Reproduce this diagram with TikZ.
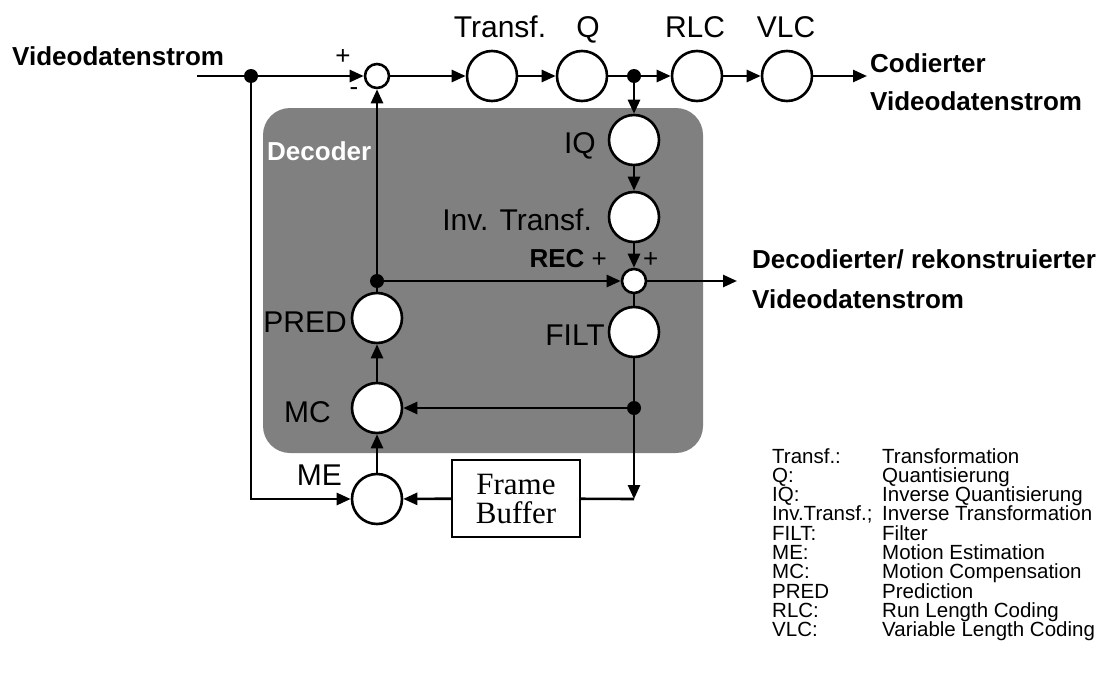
\documentclass[tikz,border=0pt]{standalone}
\usepackage{fontspec}
\setmainfont{Liberation Sans}
\newfontfamily\seriffont{Liberation Serif}
\usetikzlibrary{arrows.meta}
\definecolor{boxgray}{RGB}{128,128,128}
\begin{document}
\begin{tikzpicture}[x=1pt,y=-1pt,
  blk/.style={circle, draw, fill=white, line width=2.6pt, minimum size=50pt, inner sep=0pt},
  sumc/.style={circle, draw, fill=white, line width=2.6pt, minimum size=24pt, inner sep=0pt},
  dotc/.style={circle, fill=black, minimum size=14pt, inner sep=0pt},
  conn/.style={line width=2.6pt},
  arr/.style={conn, -{Triangle[length=14pt,width=12pt]}},
  lbl/.style={font=\fontsize{30}{30}\selectfont, inner sep=0pt},
  bld/.style={font=\fontsize{26}{26}\selectfont\bfseries, inner sep=0pt, anchor=base west},
  sgn/.style={font=\fontsize{26}{26}\selectfont, inner sep=0pt},
  leg/.style={font=\fontsize{20.5}{20.5}\selectfont, inner sep=0pt, anchor=base west},
]
\useasboundingbox (0,0) rectangle (1113,680);
% decoder background
\fill[boxgray, rounded corners=27pt] (263,108) rectangle (703,453);
\node[bld, text=white] (dec) at (267,160) {Decoder};

% nodes
\coordinate (start) at (197,76);
\node[dotc] (d1) at (251,76) {};
\node[sumc] (s1) at (377,76) {};
\node[blk] (tr) at (492,76) {};
\node[blk] (q) at (582,76) {};
\node[dotc] (d2) at (634,76) {};
\node[blk] (rlc) at (697,76) {};
\node[blk] (vlc) at (787,76) {};
\coordinate (outc) at (867,76);

\node[blk] (iq) at (634,140) {};
\node[blk] (itr) at (634,217) {};
\node[sumc] (rec) at (634,281) {};
\coordinate (outd) at (737,281);
\node[blk] (filt) at (634,332) {};
\node[dotc] (d4) at (634,408) {};
\coordinate (c1) at (634,499);

\node[dotc] (d3) at (377,281) {};
\node[blk] (pred) at (377,318) {};
\node[blk] (mc) at (377,408) {};
\node[blk] (me) at (377,499) {};
\node[draw, line width=2.2pt, fill=white, minimum width=128pt, minimum height=77pt,
      align=center, inner sep=0pt,
      font=\seriffont\fontsize{31}{29}\selectfont] (fb) at (516,498.5) {Frame\\Buffer};

% connectors
\draw[conn] (start) -- (d1);
\draw[arr] (d1) -- (s1);
\draw[arr] (s1) -- (tr);
\draw[arr] (tr) -- (q);
\draw[conn] (q) -- (d2);
\draw[arr] (d2) -- (rlc);
\draw[arr] (rlc) -- (vlc);
\draw[arr] (vlc) -- (outc);
\draw[arr] (d2) -- (iq);
\draw[arr] (iq) -- (itr);
\draw[arr] (itr) -- (rec);
\draw[conn] (rec) -- (filt);
\draw[arr] (rec) -- (outd);
\draw[conn] (filt) -- (d4);
\draw[arr] (d4) -- (c1);
\draw[conn] (c1) -- (fb);
\draw[arr] (fb) -- (me);
\draw[arr] (d4) -- (mc);
\draw[arr] (me) -- (mc);
\draw[arr] (mc) -- (pred);
\draw[conn] (pred) -- (d3);
\draw[arr] (d3) -- (s1);
\draw[arr] (d3) -- (rec);
\draw[arr] (d1) |- (me);

% labels
\node[bld] (tin) at (12,65) {Videodatenstrom};
\node[sgn] (p1) at (343,57) {+};
\node[sgn] (m1) at (354,92) {-};
\node[lbl, anchor=base] (ltr) at (500,37) {Transf.};
\node[lbl, anchor=base] (lq) at (588,37) {Q};
\node[lbl, anchor=base] (lrlc) at (695,37) {RLC};
\node[lbl, anchor=base] (lvlc) at (786,37) {VLC};
\node[bld] (tc1) at (870,72) {Codierter};
\node[bld] (tc2) at (870,110) {Videodatenstrom};
\node[lbl, anchor=base east] (liq) at (596,153) {IQ};
\node[lbl, anchor=base east] (litr) at (592,230) {Inv. Transf.};
\node[sgn, anchor=base east] (lrec) at (607,267) {\textbf{REC} +};
\node[sgn, anchor=base west] (p2) at (643,267) {+};
\node[bld] (td1) at (752,268) {Decodierter/ rekonstruierter};
\node[bld] (td2) at (752,308) {Videodatenstrom};
\node[lbl, anchor=base east] (lpred) at (347,332) {PRED};
\node[lbl, anchor=base east] (lfilt) at (605,345) {FILT};
\node[lbl, anchor=base east] (lmc) at (331,422) {MC};
\node[lbl, anchor=base east] (lme) at (342,485) {ME};

% legend
\foreach \a/\b [count=\i] in {Transf.:/Transformation, Q:/Quantisierung, IQ:/Inverse Quantisierung,
  Inv.Transf.;/Inverse Transformation, FILT:/Filter, ME:/Motion Estimation, MC:/Motion Compensation,
  PRED/Prediction, RLC:/Run Length Coding, VLC:/Variable Length Coding}{
  \node[leg] (la\i) at (772,{463+19.3*(\i-1)}) {\a};
  \node[leg] (lb\i) at (882,{463+19.3*(\i-1)}) {\b};
}
\end{tikzpicture}
\end{document}
